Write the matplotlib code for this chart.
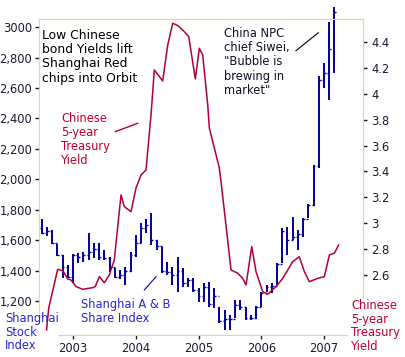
import numpy as np
import pandas as pd
import matplotlib
matplotlib.use('Agg')
import matplotlib.pyplot as plt

# Shanghai A & B share index, monthly bars Jul 2002 .. Mar 2007
months = pd.date_range('2002-07-01', '2007-03-01', freq='MS')
stock_high = [1738, 1685, 1668, 1577, 1502, 1437, 1510, 1518, 1524, 1645,
              1579, 1579, 1535, 1492, 1415, 1404, 1421, 1524, 1635, 1712,
              1740, 1777, 1601, 1557, 1459, 1426, 1492, 1415, 1349, 1349,
              1283, 1316, 1327, 1283, 1163, 1141, 1108, 1207, 1207, 1163,
              1108, 1167, 1261, 1305, 1316, 1448, 1678, 1689, 1754, 1667,
              1744, 1838, 2094, 2680, 2763, 3037, 3131]
stock_low = [1640, 1630, 1572, 1497, 1349, 1349, 1320, 1448, 1459, 1470,
             1481, 1470, 1470, 1393, 1349, 1342, 1305, 1393, 1492, 1579,
             1645, 1568, 1535, 1382, 1371, 1305, 1261, 1294, 1294, 1261,
             1196, 1196, 1163, 1152, 1053, 1009, 1009, 1086, 1141, 1075,
             1075, 1080, 1163, 1261, 1251, 1305, 1448, 1503, 1601, 1535,
             1623, 1744, 1825, 2072, 2599, 2522, 2701]
stock_close = [1650, 1660, 1580, 1505, 1420, 1360, 1500, 1490, 1500, 1520,
               1540, 1490, 1480, 1420, 1360, 1370, 1400, 1500, 1580, 1680,
               1700, 1600, 1560, 1400, 1390, 1370, 1400, 1320, 1340, 1270,
               1230, 1290, 1180, 1230, 1070, 1080, 1080, 1170, 1160, 1090,
               1090, 1160, 1250, 1290, 1300, 1440, 1660, 1600, 1620, 1640,
               1740, 1830, 2090, 2650, 2700, 2860, 3100]

# Chinese 5-year treasury yield (decimal year, %)
yield_t = [2002.578, 2002.613, 2002.756, 2002.836, 2002.916, 2002.968, 2003.048,
           2003.155, 2003.314, 2003.355, 2003.419, 2003.499, 2003.578, 2003.658,
           2003.712, 2003.765, 2003.818, 2003.924, 2004.004, 2004.084, 2004.163,
           2004.243, 2004.296, 2004.429, 2004.509, 2004.589, 2004.669, 2004.748,
           2004.844, 2004.949, 2005.013, 2005.067, 2005.147, 2005.172, 2005.331,
           2005.359, 2005.518, 2005.625, 2005.704, 2005.757, 2005.848, 2005.916,
           2006.023, 2006.103, 2006.235, 2006.342, 2006.501, 2006.606, 2006.686,
           2006.766, 2006.900, 2007.005, 2007.085, 2007.164, 2007.234]
yield_v = [2.175, 2.345, 2.644, 2.633, 2.569, 2.561, 2.510,
           2.489, 2.502, 2.510, 2.587, 2.540, 2.600, 2.716,
           2.973, 3.218, 3.128, 3.089, 3.272, 3.373, 3.411,
           3.836, 4.184, 4.099, 4.377, 4.545, 4.527, 4.493,
           4.442, 4.115, 4.352, 4.300, 3.914, 3.736, 3.427,
           3.321, 2.639, 2.613, 2.574, 2.523, 2.819, 2.626,
           2.471, 2.451, 2.510, 2.574, 2.703, 2.741, 2.626,
           2.548, 2.574, 2.587, 2.755, 2.768, 2.832]

left_ticks = [1200, 1400, 1600, 1800, 2000, 2200, 2400, 2600, 2800, 3000]
left_labels = ['1,200', '1,400', '1,600', '1,800', '2,000', '2,200',
               '2,400', '2,600', '2,800', '3000']
right_ticks = [2.6, 2.8, 3.0, 3.2, 3.4, 3.6, 3.8, 4.0, 4.2, 4.4]
right_labels = ['2.6', '2.8', '3', '3.2', '3.4', '3.6', '3.8', '4', '4.2', '4.4']
years = [2003, 2004, 2005, 2006, 2007]

W, H = 406, 357
RED = '#b0003a'
RED_TXT = '#c0002e'
BLUE = '#000099'
BLUE_TXT = '#2828c8'
PEACH = '#fbc99a'
TXT = '#1a1a30'
FS = 8.3

plt.rcParams['font.family'] = 'DejaVu Sans'
fig = plt.figure(figsize=(W / 100, H / 100), dpi=100)
ax = fig.add_axes([39 / W, 1 - 335 / H, 324 / W, 316 / H])
ax2 = ax.twinx()

t = np.array([d.year + (d.month - 1) / 12 for d in months])
opens = [stock_close[0] + 30] + stock_close[:-1]
ax.vlines(t, stock_low, stock_high, color=BLUE, lw=1.4, clip_on=False)
ax.hlines(opens, t - 0.03, t, color=BLUE, lw=1.0, clip_on=False)
ax.hlines(stock_close, t, t + 0.03, color=BLUE, lw=1.0, clip_on=False)

ax2.plot(yield_t, yield_v, color=RED, lw=1.1)

ax.set_xlim(2002.458, 2007.621)
ax.set_ylim(976, 3054)
ax2.set_ylim(2.136, 4.578)

ax.set_yticks(left_ticks)
ax.set_yticklabels(left_labels)
ax2.set_yticks(right_ticks)
ax2.set_yticklabels(right_labels)
ax.set_xticks(years)
ax.set_xticklabels([str(y) for y in years])

ax.tick_params(axis='y', direction='out', length=3, width=1, pad=2,
               labelsize=FS, colors=TXT)
ax2.tick_params(axis='y', direction='out', length=3, width=1, pad=3,
                labelsize=FS, colors=TXT)
ax.tick_params(axis='x', direction='out', length=3, width=1, pad=2,
               labelsize=FS, colors=TXT)

for s in ['left', 'bottom', 'top', 'right']:
    ax.spines[s].set_color(PEACH)
    ax2.spines[s].set_color(PEACH)
ax.spines['right'].set_visible(False)
ax2.spines['left'].set_visible(False)
ax2.spines['bottom'].set_visible(False)
ax.spines['left'].set_bounds(1121, 3054)
ax.spines['bottom'].set_bounds(2002.761, 2007.367)
ax2.spines['right'].set_bounds(2.43, 4.578)


def px(x, y):
    return x / W, 1 - y / H


fig.text(*px(42, 29), 'Low Chinese\nbond Yields lift\nShanghai Red\nchips into Orbit',
         fontsize=FS + 0.6, color='black', va='top', ha='left', linespacing=1.12)
fig.text(*px(61, 112), 'Chinese\n5-year\nTreasury\nYield',
         fontsize=FS, color=RED_TXT, va='top', ha='left', linespacing=1.1)
fig.add_artist(plt.Line2D([115.3 / W, 137.7 / W], [1 - 131.7 / H, 1 - 123.3 / H],
                          color=RED, lw=1))
fig.text(*px(224, 27), 'China NPC\nchief Siwei,\n"Bubble is\nbrewing in\nmarket"',
         fontsize=FS, color='#10102a', va='top', ha='left', linespacing=1.12)
fig.add_artist(plt.Line2D([296 / W, 318.3 / W], [1 - 50.7 / H, 1 - 32.7 / H],
                          color='black', lw=0.8))
fig.text(*px(81, 298), 'Shanghai A & B\nShare Index',
         fontsize=FS, color=BLUE_TXT, va='top', ha='left', linespacing=1.05)
fig.add_artist(plt.Line2D([144.3 / W, 156 / W], [1 - 290 / H, 1 - 276.7 / H],
                          color=BLUE, lw=0.8))
fig.text(*px(5, 312), 'Shanghai\nStock\nIndex',
         fontsize=FS, color=BLUE_TXT, va='top', ha='left', linespacing=1.05)
fig.text(*px(351, 299), 'Chinese\n5-year\nTreasury\nYield',
         fontsize=FS, color=RED_TXT, va='top', ha='left', linespacing=1.05)

fig.savefig('out.png', dpi=100)
